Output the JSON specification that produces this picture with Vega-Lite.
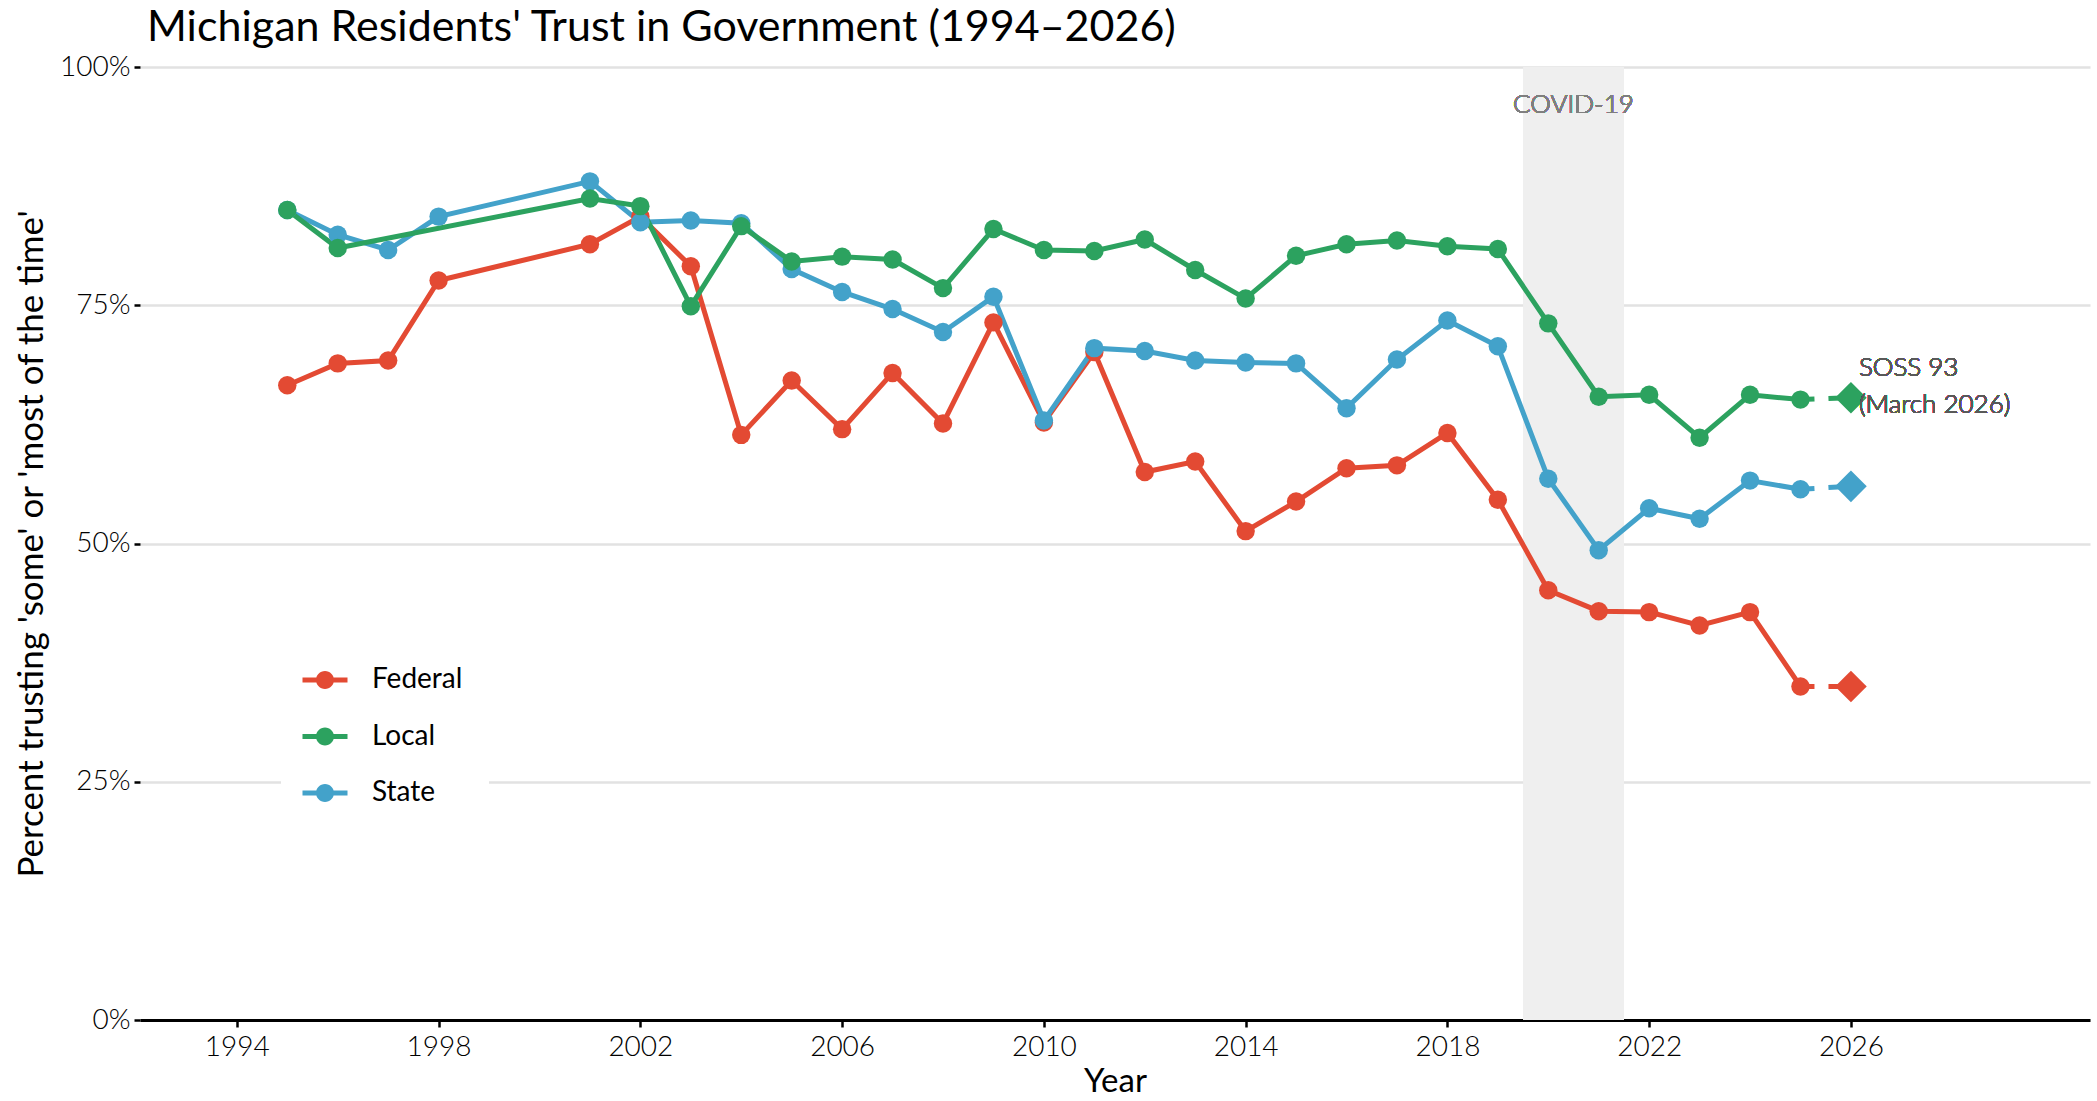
{
  "$schema": "https://vega.github.io/schema/vega-lite/v6.json",
  "width": 1950,
  "height": 953,
  "autosize": {"type": "none"},
  "padding": {"left": 140, "top": 67, "right": 7, "bottom": 81},
  "background": "white",
  "title": {
    "text": "Michigan Residents' Trust in Government (1994–2026)",
    "anchor": "start",
    "frame": "group",
    "fontSize": 43,
    "font": "Lato",
    "fontWeight": 400,
    "color": "black",
    "baseline": "alphabetic",
    "offset": 14,
    "dx": 7,
    "dy": 45
  },
  "config": {
    "font": "Lato",
    "view": {"stroke": null},
    "axisX": {
      "grid": false, "domain": true, "domainColor": "black", "domainWidth": 3,
      "ticks": true, "tickColor": "black", "tickSize": 7, "tickWidth": 2.5,
      "labelFontSize": 28, "labelColor": "black", "labelFont": "Lato", "labelFontWeight": 300, "labelPadding": 6,
      "titleFontSize": 33, "titleFontWeight": 400, "titleColor": "black", "titleFont": "Lato", "titlePadding": 4
    },
    "axisY": {
      "grid": true, "gridColor": "#e2e2e2", "gridWidth": 2.5, "domain": false,
      "ticks": true, "tickColor": "black", "tickSize": 6, "tickWidth": 2.5,
      "labelFontSize": 28, "labelColor": "black", "labelFont": "Lato", "labelFontWeight": 300, "labelPadding": 4,
      "titleFontSize": 35, "titleFontWeight": 400, "titleColor": "black", "titleFont": "Lato", "titlePadding": 10
    }
  },
  "data": {
    "values": [
      {"year": 1995, "series": "Federal", "value": 66.6},
      {"year": 1996, "series": "Federal", "value": 68.9},
      {"year": 1997, "series": "Federal", "value": 69.2},
      {"year": 1998, "series": "Federal", "value": 77.6},
      {"year": 2001, "series": "Federal", "value": 81.4},
      {"year": 2002, "series": "Federal", "value": 84.3},
      {"year": 2003, "series": "Federal", "value": 79.1},
      {"year": 2004, "series": "Federal", "value": 61.4},
      {"year": 2005, "series": "Federal", "value": 67.1},
      {"year": 2006, "series": "Federal", "value": 62.0},
      {"year": 2007, "series": "Federal", "value": 67.9},
      {"year": 2008, "series": "Federal", "value": 62.6},
      {"year": 2009, "series": "Federal", "value": 73.2},
      {"year": 2010, "series": "Federal", "value": 62.7},
      {"year": 2011, "series": "Federal", "value": 70.1},
      {"year": 2012, "series": "Federal", "value": 57.5},
      {"year": 2013, "series": "Federal", "value": 58.6},
      {"year": 2014, "series": "Federal", "value": 51.3},
      {"year": 2015, "series": "Federal", "value": 54.4},
      {"year": 2016, "series": "Federal", "value": 57.9},
      {"year": 2017, "series": "Federal", "value": 58.2},
      {"year": 2018, "series": "Federal", "value": 61.6},
      {"year": 2019, "series": "Federal", "value": 54.6},
      {"year": 2020, "series": "Federal", "value": 45.1},
      {"year": 2021, "series": "Federal", "value": 42.9},
      {"year": 2022, "series": "Federal", "value": 42.8},
      {"year": 2023, "series": "Federal", "value": 41.4},
      {"year": 2024, "series": "Federal", "value": 42.8},
      {"year": 2025, "series": "Federal", "value": 35.0},
      {"year": 2026, "series": "Federal", "value": 35.0},
      {"year": 1995, "series": "State", "value": 85.0},
      {"year": 1996, "series": "State", "value": 82.4},
      {"year": 1997, "series": "State", "value": 80.8},
      {"year": 1998, "series": "State", "value": 84.3},
      {"year": 2001, "series": "State", "value": 88.0},
      {"year": 2002, "series": "State", "value": 83.7},
      {"year": 2003, "series": "State", "value": 83.9},
      {"year": 2004, "series": "State", "value": 83.6},
      {"year": 2005, "series": "State", "value": 78.8},
      {"year": 2006, "series": "State", "value": 76.4},
      {"year": 2007, "series": "State", "value": 74.6},
      {"year": 2008, "series": "State", "value": 72.2},
      {"year": 2009, "series": "State", "value": 75.9},
      {"year": 2010, "series": "State", "value": 62.9},
      {"year": 2011, "series": "State", "value": 70.5},
      {"year": 2012, "series": "State", "value": 70.2},
      {"year": 2013, "series": "State", "value": 69.2},
      {"year": 2014, "series": "State", "value": 69.0},
      {"year": 2015, "series": "State", "value": 68.9},
      {"year": 2016, "series": "State", "value": 64.2},
      {"year": 2017, "series": "State", "value": 69.3},
      {"year": 2018, "series": "State", "value": 73.4},
      {"year": 2019, "series": "State", "value": 70.7},
      {"year": 2020, "series": "State", "value": 56.8},
      {"year": 2021, "series": "State", "value": 49.3},
      {"year": 2022, "series": "State", "value": 53.7},
      {"year": 2023, "series": "State", "value": 52.6},
      {"year": 2024, "series": "State", "value": 56.6},
      {"year": 2025, "series": "State", "value": 55.7},
      {"year": 2026, "series": "State", "value": 56.0},
      {"year": 1995, "series": "Local", "value": 85.0},
      {"year": 1996, "series": "Local", "value": 81.0},
      {"year": 2001, "series": "Local", "value": 86.2},
      {"year": 2002, "series": "Local", "value": 85.4},
      {"year": 2003, "series": "Local", "value": 74.9},
      {"year": 2004, "series": "Local", "value": 83.3},
      {"year": 2005, "series": "Local", "value": 79.6},
      {"year": 2006, "series": "Local", "value": 80.1},
      {"year": 2007, "series": "Local", "value": 79.8},
      {"year": 2008, "series": "Local", "value": 76.8},
      {"year": 2009, "series": "Local", "value": 83.0},
      {"year": 2010, "series": "Local", "value": 80.8},
      {"year": 2011, "series": "Local", "value": 80.7},
      {"year": 2012, "series": "Local", "value": 81.9},
      {"year": 2013, "series": "Local", "value": 78.7},
      {"year": 2014, "series": "Local", "value": 75.7},
      {"year": 2015, "series": "Local", "value": 80.2},
      {"year": 2016, "series": "Local", "value": 81.4},
      {"year": 2017, "series": "Local", "value": 81.8},
      {"year": 2018, "series": "Local", "value": 81.2},
      {"year": 2019, "series": "Local", "value": 80.9},
      {"year": 2020, "series": "Local", "value": 73.1},
      {"year": 2021, "series": "Local", "value": 65.4},
      {"year": 2022, "series": "Local", "value": 65.6},
      {"year": 2023, "series": "Local", "value": 61.1},
      {"year": 2024, "series": "Local", "value": 65.6},
      {"year": 2025, "series": "Local", "value": 65.1},
      {"year": 2026, "series": "Local", "value": 65.3}
    ]
  },
  "layer": [
    {
      "mark": {"type": "rect", "color": "#efefef"},
      "encoding": {
        "x": {"datum": 2019.5, "type": "quantitative", "scale": {"domain": [1992.08, 2030.74], "nice": false, "zero": false}, "title": "Year"},
        "x2": {"datum": 2021.5},
        "y": {"datum": 0, "type": "quantitative", "scale": {"domain": [0, 100], "nice": false}, "title": "Percent trusting 'some' or 'most of the time'"},
        "y2": {"datum": 100}
      }
    },
    {
      "transform": [{"filter": "datum.year > 3000"}],
      "mark": {"type": "point", "shape": "circle", "filled": true, "opacity": 1, "strokeWidth": 0, "size": 340},
      "encoding": {
        "x": {"field": "year", "type": "quantitative", "title": "Year"},
        "y": {"field": "value", "type": "quantitative", "title": "Percent trusting 'some' or 'most of the time'"},
        "color": {"field": "series", "type": "nominal",
                  "scale": {"domain": ["Federal", "Local", "State"], "range": ["#e34a33", "#2ca25f", "#43a2ca"]},
                  "legend": {
                    "title": null, "orient": "none", "legendX": 141, "legendY": 569,
                    "fillColor": "white", "padding": 26,
                    "symbolType": "M-1.25,-0.14L1.25,-0.14L1.25,0.14L-1.25,0.14Z M0.5,0A0.5,0.5 0 1,1 -0.5,0A0.5,0.5 0 1,1 0.5,0Z",
                    "symbolSize": 1296, "symbolStrokeWidth": 0, "symbolOpacity": 1,
                    "labelFontSize": 28, "labelFont": "Lato", "labelFontWeight": 400, "labelColor": "black",
                    "labelOffset": 29, "rowPadding": 24.5
                  }}
      }
    },
    {
      "mark": {"type": "text", "fontSize": 26, "fontWeight": 300, "color": "#7f7f7f", "font": "Lato", "align": "center", "baseline": "middle"},
      "encoding": {
        "x": {"datum": 2020.5, "type": "quantitative", "title": "Year"},
        "y": {"datum": 96, "type": "quantitative", "title": "Percent trusting 'some' or 'most of the time'"},
        "text": {"value": "COVID-19"}
      }
    },
    {
      "transform": [{"filter": "datum.year <= 2025"}],
      "mark": {"type": "line", "strokeWidth": 5},
      "encoding": {
        "x": {"field": "year", "type": "quantitative", "title": "Year",
              "axis": {"values": [1994, 1998, 2002, 2006, 2010, 2014, 2018, 2022, 2026], "format": "d"}},
        "y": {"field": "value", "type": "quantitative", "title": "Percent trusting 'some' or 'most of the time'",
              "axis": {"values": [0, 25, 50, 75, 100], "labelExpr": "datum.value + '%'"}},
        "color": {"field": "series", "type": "nominal",
                  "legend": {
                    "title": null, "orient": "none", "legendX": 141, "legendY": 569,
                    "fillColor": "white", "padding": 26,
                    "symbolType": "M-1.25,-0.14L1.25,-0.14L1.25,0.14L-1.25,0.14Z M0.5,0A0.5,0.5 0 1,1 -0.5,0A0.5,0.5 0 1,1 0.5,0Z",
                    "symbolSize": 1296, "symbolStrokeWidth": 0, "symbolOpacity": 1,
                    "labelFontSize": 28, "labelFont": "Lato", "labelFontWeight": 400, "labelColor": "black",
                    "labelOffset": 29, "rowPadding": 24.5
                  }},
        "detail": {"field": "series"}
      }
    },
    {
      "transform": [{"filter": "datum.year >= 2025"}],
      "mark": {"type": "line", "strokeWidth": 5, "strokeDash": [14, 14]},
      "encoding": {
        "x": {"field": "year", "type": "quantitative", "title": "Year"},
        "y": {"field": "value", "type": "quantitative", "title": "Percent trusting 'some' or 'most of the time'"},
        "color": {"field": "series", "type": "nominal",
                  "legend": {
                    "title": null, "orient": "none", "legendX": 141, "legendY": 569,
                    "fillColor": "white", "padding": 26,
                    "symbolType": "M-1.25,-0.14L1.25,-0.14L1.25,0.14L-1.25,0.14Z M0.5,0A0.5,0.5 0 1,1 -0.5,0A0.5,0.5 0 1,1 0.5,0Z",
                    "symbolSize": 1296, "symbolStrokeWidth": 0, "symbolOpacity": 1,
                    "labelFontSize": 28, "labelFont": "Lato", "labelFontWeight": 400, "labelColor": "black",
                    "labelOffset": 29, "rowPadding": 24.5
                  }},
        "detail": {"field": "series"}
      }
    },
    {
      "transform": [{"filter": "datum.year <= 2025"}],
      "mark": {"type": "point", "shape": "circle", "filled": true, "opacity": 1, "strokeWidth": 0, "size": 340},
      "encoding": {
        "x": {"field": "year", "type": "quantitative", "title": "Year"},
        "y": {"field": "value", "type": "quantitative", "title": "Percent trusting 'some' or 'most of the time'"},
        "color": {"field": "series", "type": "nominal",
                  "legend": {
                    "title": null, "orient": "none", "legendX": 141, "legendY": 569,
                    "fillColor": "white", "padding": 26,
                    "symbolType": "M-1.25,-0.14L1.25,-0.14L1.25,0.14L-1.25,0.14Z M0.5,0A0.5,0.5 0 1,1 -0.5,0A0.5,0.5 0 1,1 0.5,0Z",
                    "symbolSize": 1296, "symbolStrokeWidth": 0, "symbolOpacity": 1,
                    "labelFontSize": 28, "labelFont": "Lato", "labelFontWeight": 400, "labelColor": "black",
                    "labelOffset": 29, "rowPadding": 24.5
                  }}
      }
    },
    {
      "transform": [{"filter": "datum.year == 2026"}],
      "mark": {"type": "point", "shape": "diamond", "filled": true, "opacity": 1, "strokeWidth": 0, "size": 1000},
      "encoding": {
        "x": {"field": "year", "type": "quantitative", "title": "Year"},
        "y": {"field": "value", "type": "quantitative", "title": "Percent trusting 'some' or 'most of the time'"},
        "color": {"field": "series", "type": "nominal",
                  "legend": {
                    "title": null, "orient": "none", "legendX": 141, "legendY": 569,
                    "fillColor": "white", "padding": 26,
                    "symbolType": "M-1.25,-0.14L1.25,-0.14L1.25,0.14L-1.25,0.14Z M0.5,0A0.5,0.5 0 1,1 -0.5,0A0.5,0.5 0 1,1 0.5,0Z",
                    "symbolSize": 1296, "symbolStrokeWidth": 0, "symbolOpacity": 1,
                    "labelFontSize": 28, "labelFont": "Lato", "labelFontWeight": 400, "labelColor": "black",
                    "labelOffset": 29, "rowPadding": 24.5
                  }}
      }
    },
    {
      "mark": {"type": "text", "fontSize": 26, "fontWeight": 300, "color": "#595959", "font": "Lato", "align": "left", "baseline": "middle", "dx": 8, "lineHeight": 37},
      "encoding": {
        "x": {"datum": 2026, "type": "quantitative", "title": "Year"},
        "y": {"datum": 68.4, "type": "quantitative", "title": "Percent trusting 'some' or 'most of the time'"},
        "text": {"value": ["SOSS 93", "(March 2026)"]}
      }
    }
  ]
}
